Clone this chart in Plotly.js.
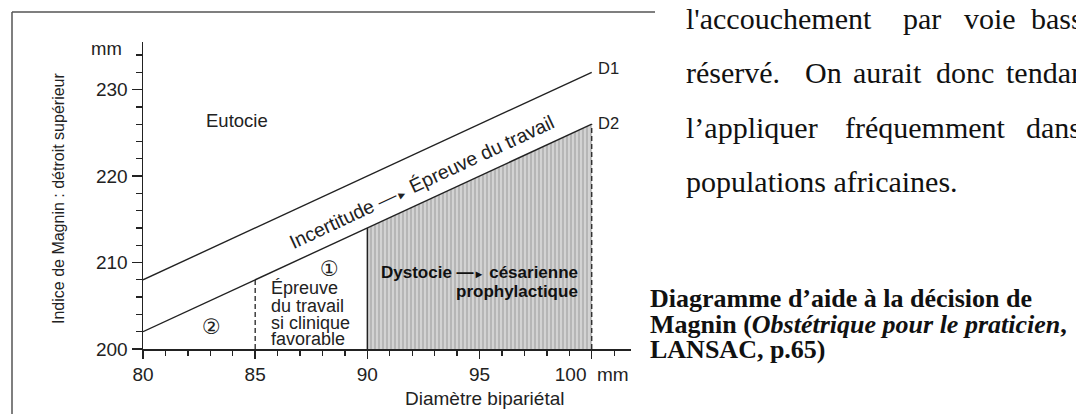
<!DOCTYPE html>
<html>
<head>
<meta charset="utf-8">
<script src="https://cdn.plot.ly/plotly-3.0.1.min.js"></script>
<style>html,body{margin:0;padding:0;background:#fff;overflow:hidden}#chart{width:1076px;height:414px}</style>
</head>
<body>
<div id="chart"></div>
<script>
// ---- data ----
const biparietal = [80, 100];          // Diamètre bipariétal (mm)
const lineD1 = [208, 232];             // Indice de Magnin, droite D1
const lineD2 = [202, 226];             // Indice de Magnin, droite D2
const limitEpreuve = 85;               // limite zone 2 / zone 1
const limitDystocie = 90;              // début zone dystocie
const limitMax = 100;                  // fin du diagramme
const xTickVals = [80, 85, 90, 95, 100];
const xTickText = ['80', '85', '90', '95', '100'];
const yTickVals = [200, 210, 220, 230];
const unit = 'mm';
const lineLabels = ['D1', 'D2'];
const arrow = '—<span style="font-size:11px">►</span>';
const zoneLabels = ['Eutocie', 'Incertitude ' + arrow + ' Épreuve du travail', '①', '②'];
const zone1Lines = ['Épreuve', 'du travail', 'si clinique', 'favorable'];
const dystocieLines = ['<b>Dystocie ' + arrow + ' césarienne</b>', '<b>prophylactique</b>'];
const bodyLines = [
  ["l'accouchement", 'par', 'voie', 'basse'],
  ['réservé.', 'On', 'aurait', 'donc', 'tendance'],
  ['l’appliquer', 'fréquemment', 'dans'],
  ['populations africaines.']
];
const captionLines = [
  '<b>Diagramme d’aide à la décision de</b>',
  '<b>Magnin (<i>Obstétrique pour le praticien</i>,</b>',
  '<b>LANSAC, p.65)</b>'
];

// ---- helpers ----
function interp(xs, ys, x) {
  return ys[0] + (ys[1] - ys[0]) * (x - xs[0]) / (xs[1] - xs[0]);
}
const d2 = x => interp(biparietal, lineD2, x);

const ink = '#222';
const sans = 'Liberation Sans, Arial, Helvetica, sans-serif';
const serif = 'Liberation Serif, Times New Roman, serif';
const nb = '\u00a0';
// last tick label carries the unit, as in the original
const xTickLabels = xTickText.map((t, i) => i === xTickText.length - 1 ? t + nb + nb + unit : t);

const traces = [
  { // hatched dystocia zone
    x: [limitDystocie, limitDystocie, limitMax, limitMax],
    y: [200, d2(limitDystocie), d2(limitMax), 200],
    mode: 'lines', fill: 'toself', line: { width: 0 },
    fillcolor: '#bcbcbc',
    fillpattern: { shape: '|', bgcolor: '#b6b6b6', fgcolor: '#d6d6d6', size: 4, solidity: 0.45 },
    hoverinfo: 'skip'
  },
  { x: biparietal, y: lineD1, mode: 'lines', line: { color: ink, width: 1.4 } },
  { x: biparietal, y: lineD2, mode: 'lines', line: { color: ink, width: 1.4 } },
  { x: [limitEpreuve, limitEpreuve], y: [200, d2(limitEpreuve)], mode: 'lines', line: { color: ink, width: 1.3, dash: '5px,3px' } },
  { x: [limitDystocie, limitDystocie], y: [200, d2(limitDystocie)], mode: 'lines', line: { color: ink, width: 1.5 } },
  { x: [limitMax, limitMax], y: [200, d2(limitMax)], mode: 'lines', line: { color: ink, width: 1.3, dash: '5px,3px' } }
];

const W = 1076, H = 414;
const L = 143, R = 631, T = 42, B = 349;
const px = x => (x - L) / (R - L);
const py = y => (B - y) / (B - T);

const ann = [];
function txt(o) {
  ann.push(Object.assign({ showarrow: false, xanchor: 'center', yanchor: 'middle',
    font: { family: sans, size: 18, color: ink } }, o));
}

// chart labels (data coordinates)
txt({ x: 84.2, y: 226.4, text: zoneLabels[0], font: { family: sans, size: 18.5, color: ink } });
txt({ x: 92.4, y: 219.3, text: zoneLabels[1], textangle: -25, font: { family: sans, size: 19.5, color: ink } });
txt({ x: 88.33, y: 209.2, text: zoneLabels[2], font: { family: 'DejaVu Sans, sans-serif', size: 21, color: ink } });
txt({ x: 83.07, y: 202.5, text: zoneLabels[3], font: { family: 'DejaVu Sans, sans-serif', size: 21, color: ink } });
const z1y = [207.1, 205.0, 203.0, 201.2];
zone1Lines.forEach((t, i) => txt({ x: 85.61, y: z1y[i], text: t, xanchor: 'left', font: { family: sans, size: 18, color: ink } }));
const dyy = [208.8, 206.6];
dystocieLines.forEach((t, i) => txt({ x: 99.47, y: dyy[i], text: t, xanchor: 'right', font: { family: sans, size: 17, color: '#111' } }));
txt({ x: biparietal[1] + 0.2, y: lineD1[1] + 0.5, text: lineLabels[0], xanchor: 'left', font: { family: sans, size: 16.5, color: ink } });
txt({ x: biparietal[1] + 0.2, y: lineD2[1] + 0.1, text: lineLabels[1], xanchor: 'left', font: { family: sans, size: 16.5, color: ink } });

// axis unit / titles (paper coords)
txt({ xref: 'paper', yref: 'paper', x: px(124), y: py(48), text: unit, xanchor: 'right', font: { family: sans, size: 18.5, color: ink } });
txt({ xref: 'paper', yref: 'paper', x: px(484), y: py(398), text: 'Diamètre bipariétal', font: { family: sans, size: 19, color: ink } });
txt({ xref: 'paper', yref: 'paper', x: px(58), y: py(199), text: 'Indice de Magnin : détroit supérieur', textangle: -90, font: { family: sans, size: 16, color: ink } });

// body text on the right (justified words)
const bodyX = [
  [684, 901, 962, 1029],
  [684, 803, 851, 934, 1004],
  [684, 843, 1024],
  [684]
];
const bodyY = [19, 72, 127, 181];
bodyLines.forEach((words, i) => words.forEach((w, j) => txt({
  xref: 'paper', yref: 'paper', x: px(bodyX[i][j]), y: py(bodyY[i]), text: w, xanchor: 'left',
  font: { family: serif, size: 30, color: '#111' }
})));
const capY = [298, 324, 349];
captionLines.forEach((t, i) => txt({
  xref: 'paper', yref: 'paper', x: px(648), y: py(capY[i]), text: t, xanchor: 'left',
  font: { family: serif, size: 26, color: '#111' }
}));

const shapes = [
  { type: 'line', xref: 'paper', yref: 'paper', x0: px(12), x1: px(655), y0: py(12), y1: py(12), line: { color: '#555', width: 1.5 } },
  { type: 'line', xref: 'paper', yref: 'paper', x0: px(12), x1: px(12), y0: py(12), y1: py(416), line: { color: '#555', width: 1.5 } }
];

const layout = {
  width: W, height: H,
  margin: { l: L, r: W - R, t: T, b: H - B, pad: 0 },
  paper_bgcolor: '#fff', plot_bgcolor: 'rgba(0,0,0,0)',
  showlegend: false,
  xaxis: {
    range: [80, 101.75], showgrid: false, zeroline: false,
    showline: true, linecolor: ink, linewidth: 1.5,
    tickvals: xTickVals, ticktext: xTickLabels, ticks: 'outside', ticklen: 8, tickwidth: 1.5, tickcolor: ink,
    tickfont: { family: sans, size: 19, color: ink },
    minor: { dtick: 1, tick0: 80, ticks: 'outside', ticklen: 5, tickwidth: 1.3, tickcolor: ink, showgrid: false },
    fixedrange: true
  },
  yaxis: {
    range: [200, 235.5], showgrid: false, zeroline: false,
    showline: true, linecolor: ink, linewidth: 1.5,
    tickvals: yTickVals, ticks: 'outside', ticklen: 10, tickwidth: 1.5, tickcolor: ink,
    tickfont: { family: sans, size: 19, color: ink },
    minor: { dtick: 2, tick0: 200, ticks: 'outside', ticklen: 6, tickwidth: 1.3, tickcolor: ink, showgrid: false },
    fixedrange: true
  },
  annotations: ann,
  shapes: shapes
};

Plotly.newPlot('chart', traces, layout, { displayModeBar: false, staticPlot: true });
</script>
</body>
</html>
